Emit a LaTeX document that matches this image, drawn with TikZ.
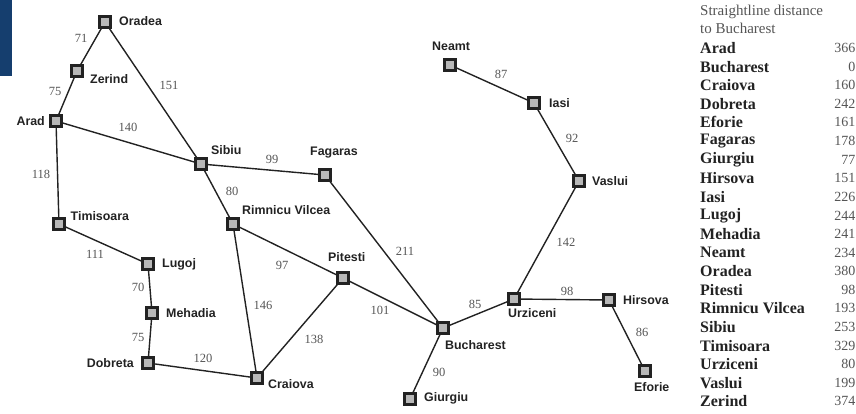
\documentclass[tikz,border=0pt]{standalone}
\usepackage{fontspec}
\setmainfont{Liberation Serif}
\newfontfamily\labelfont{Liberation Sans}
\definecolor{navy}{HTML}{153E6E}
\definecolor{inkc}{HTML}{222222}
\definecolor{numc}{HTML}{555555}
\tikzset{
  city/.style={draw=inkc,fill=black!28,line width=2.6pt,minimum size=10.5pt,inner sep=0pt,rectangle},
  road/.style={draw=inkc,line width=1.4pt},
  cname/.style={font=\labelfont\bfseries\fontsize{12.4pt}{13pt}\selectfont,text=inkc,inner sep=0pt},
  dist/.style={font=\fontsize{12.5pt}{13pt}\selectfont,text=numc,inner sep=0pt},
  tname/.style={font=\bfseries\fontsize{16pt}{17pt}\selectfont,text=inkc,anchor=west,inner sep=0pt},
  tnum/.style={font=\fontsize{14pt}{15pt}\selectfont,text=numc,anchor=east,inner sep=0pt},
  thead/.style={font=\fontsize{15pt}{16pt}\selectfont,text=numc,anchor=west,inner sep=0pt}
}
\begin{document}
\begin{tikzpicture}[x=1pt,y=-1pt]
\path[use as bounding box] (0,0) rectangle (856,413);
\fill[navy] (0,0) rectangle (12,76);
% cities
\node[city] (oradea) at (105,22) {};
\node[city] (zerind) at (77,71) {};
\node[city] (arad) at (56,121) {};
\node[city] (sibiu) at (201,164) {};
\node[city] (fagaras) at (325,175) {};
\node[city] (timisoara) at (59,224) {};
\node[city] (lugoj) at (148,264) {};
\node[city] (mehadia) at (152,313) {};
\node[city] (dobreta) at (148,363) {};
\node[city] (craiova) at (257,378) {};
\node[city] (rimnicu) at (233,224) {};
\node[city] (pitesti) at (343,278) {};
\node[city] (bucharest) at (443,328) {};
\node[city] (giurgiu) at (410,399) {};
\node[city] (urziceni) at (514,299) {};
\node[city] (hirsova) at (609,300) {};
\node[city] (eforie) at (645,371) {};
\node[city] (vaslui) at (579,181) {};
\node[city] (iasi) at (534,103) {};
\node[city] (neamt) at (450,65) {};
% roads
\foreach \a/\b in {oradea/zerind,zerind/arad,oradea/sibiu,arad/sibiu,arad/timisoara,timisoara/lugoj,lugoj/mehadia,mehadia/dobreta,dobreta/craiova,sibiu/fagaras,sibiu/rimnicu,rimnicu/pitesti,rimnicu/craiova,craiova/pitesti,pitesti/bucharest,fagaras/bucharest,bucharest/giurgiu,bucharest/urziceni,urziceni/hirsova,hirsova/eforie,urziceni/vaslui,vaslui/iasi,iasi/neamt}
  \draw[road] (\a) -- (\b);
% city labels
\node[cname,anchor=west] (lo) at (119,21) {Oradea};
\node[cname,anchor=west] (lz) at (90,79) {Zerind};
\node[cname,anchor=east] (la) at (45,121) {Arad};
\node[cname,anchor=west] (ls) at (211,150) {Sibiu};
\node[cname,anchor=west] (lf) at (310,153) {Fagaras};
\node[cname,anchor=west] (lt) at (70.5,216) {Timisoara};
\node[cname,anchor=west] (ll) at (162,264) {Lugoj};
\node[cname,anchor=west] (lm) at (166,313) {Mehadia};
\node[cname,anchor=east] (ld) at (134,363) {Dobreta};
\node[cname,anchor=west] (lc) at (268,384) {Craiova};
\node[cname,anchor=west] (lr) at (242,210) {Rimnicu Vilcea};
\node[cname,anchor=west] (lp) at (328,257) {Pitesti};
\node[cname,anchor=west] (lb) at (445,345) {Bucharest};
\node[cname,anchor=west] (lg) at (424,398) {Giurgiu};
\node[cname,anchor=west] (lu) at (508,313) {Urziceni};
\node[cname,anchor=west] (lh) at (623,300) {Hirsova};
\node[cname,anchor=west] (le) at (634,387) {Eforie};
\node[cname,anchor=west] (lv) at (592,181) {Vaslui};
\node[cname,anchor=west] (li) at (549,103) {Iasi};
\node[cname,anchor=west] (ln) at (432,46) {Neamt};
% distances
\node[dist] (d71) at (81,38) {71};
\node[dist] (d75a) at (55,91) {75};
\node[dist] (d151) at (169,85) {151};
\node[dist] (d140) at (128,127) {140};
\node[dist] (d118) at (41,174) {118};
\node[dist] (d99) at (272,159) {99};
\node[dist] (d80) at (232,191) {80};
\node[dist] (d111) at (95,254) {111};
\node[dist] (d70) at (138,287) {70};
\node[dist] (d75b) at (138,337) {75};
\node[dist] (d120) at (203,358) {120};
\node[dist] (d97) at (282,265) {97};
\node[dist] (d146) at (263,305) {146};
\node[dist] (d138) at (314,339) {138};
\node[dist] (d101) at (380,310) {101};
\node[dist] (d211) at (405,251) {211};
\node[dist] (d90) at (439,372) {90};
\node[dist] (d85) at (475,304) {85};
\node[dist] (d98) at (567,291) {98};
\node[dist] (d86) at (642,332) {86};
\node[dist] (d142) at (566,242) {142};
\node[dist] (d92) at (572,138) {92};
\node[dist] (d87) at (501,74) {87};
% table
\node[thead] (h1) at (700,12) {Straightline distance};
\node[thead] (h2) at (700,28) {to Bucharest};
\foreach \i/\n/\v in {0/Arad/366,1/Bucharest/0,2/Craiova/160,3/Dobreta/242,4/Eforie/161,5/Fagaras/178,6/Giurgiu/77,7/Hirsova/151,8/Iasi/226,9/Lugoj/244,10/Mehadia/241,11/Neamt/234,12/Oradea/380,13/Pitesti/98,14/Rimnicu Vilcea/193,15/Sibiu/253,16/Timisoara/329,17/Urziceni/80,18/Vaslui/199,19/Zerind/374}{
  \node[tname] (tn\i) at (700,48+\i*18.6) {\n};
  \node[tnum] (tv\i) at (855.5,48+\i*18.6) {\v};
}
\end{tikzpicture}
\end{document}
